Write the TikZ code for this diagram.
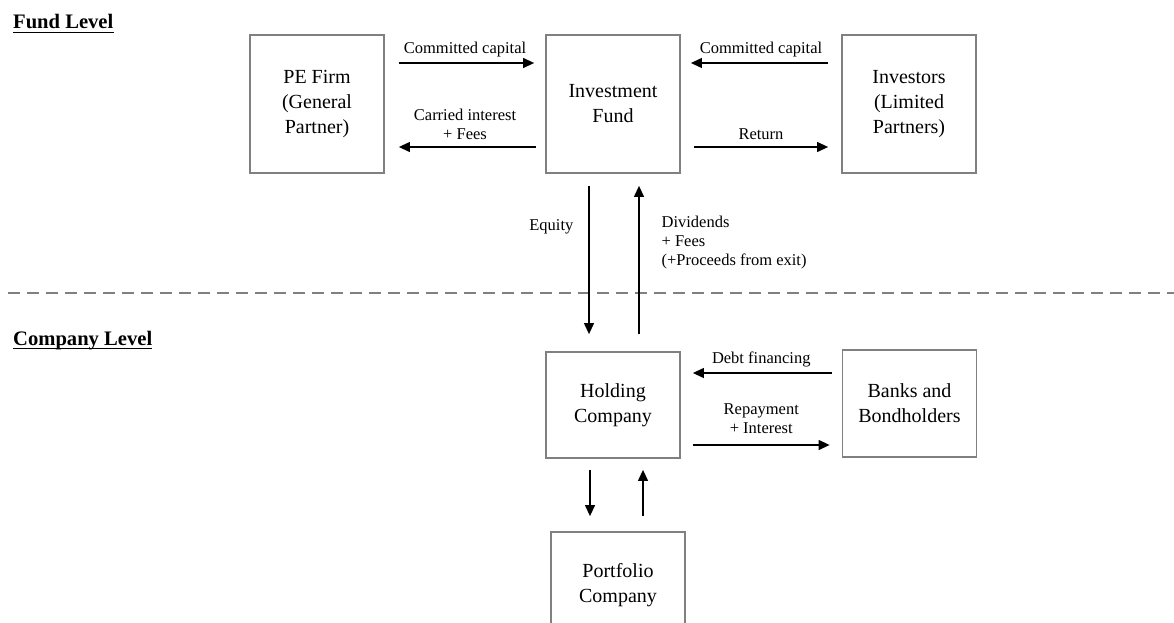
\documentclass[tikz,border=0pt]{standalone}
\usepackage{fontspec}
\setmainfont{Liberation Serif}
\usetikzlibrary{arrows.meta}
\begin{document}
\begin{tikzpicture}[x=1pt,y=-1pt,
  box/.style={draw=black!50, line width=1.8pt, rectangle, minimum width=134pt, align=center, inner sep=0pt, font=\fontsize{20}{25}\selectfont},
  arr/.style={line width=1.2pt, -{Triangle[length=11pt,width=10pt]}},
  lab/.style={inner sep=0pt, font=\fontsize{16.5}{19}\selectfont, align=center},
  ttl/.style={inner sep=0pt, anchor=base west, font=\bfseries\fontsize{20.6}{24}\selectfont}]
\useasboundingbox (0,0) rectangle (1174,623);
\clip (0,0) rectangle (1174,623);
% titles
\node[ttl] (ft) at (13,29) {Fund Level};
\draw[line width=1.8pt] ([yshift=-3.5pt]ft.base west) -- ([yshift=-3.5pt]ft.base east);
\node[ttl] (ct) at (13,345) {Company Level};
\draw[line width=1.8pt] ([yshift=-3.5pt]ct.base west) -- ([yshift=-3.5pt]ct.base east);
% divider
\coordinate (dl) at (8,293);
\coordinate (dr) at (1174,293);
\draw[black!50, line width=2.5pt, dash pattern=on 12pt off 7pt] (dl) -- (dr);
% boxes
\node[box, minimum height=138pt] (pe) at (317,104) {PE Firm\\(General\\Partner)};
\node[box, minimum height=138pt] (fund) at (613,104) {Investment\\Fund};
\node[box, minimum height=138pt] (inv) at (909,104) {Investors\\(Limited\\Partners)};
\node[box, minimum height=106pt] (hold) at (613,405) {Holding\\Company};
\node[box, minimum height=107pt] (banks) at (909.5,403.5) {Banks and\\Bondholders};
\node[box, minimum height=106pt] (port) at (618,585) {Portfolio\\Company};
% helper coordinates
\coordinate (r1) at (0,63);
\coordinate (r2) at (0,147);
\coordinate (r3) at (0,373);
\coordinate (r4) at (0,445);
\coordinate (c1) at (589,0);
\coordinate (c2) at (639,0);
\coordinate (c3) at (590,0);
\coordinate (c4) at (643,0);
% fund level arrows
\draw[arr, shorten <=14pt, shorten >=11pt] (pe.east |- r1) -- (fund.west |- r1)
  node[lab, midway, above=5pt] {Committed capital};
\draw[arr, shorten <=13pt, shorten >=10pt] (inv.west |- r1) -- (fund.east |- r1)
  node[lab, midway, above=5pt] {Committed capital};
\draw[arr, shorten <=9pt, shorten >=14pt] (fund.west |- r2) -- (pe.east |- r2)
  node[lab, midway, above=7pt] {Carried interest\\+ Fees};
\draw[arr, shorten <=13pt, shorten >=13pt] (fund.east |- r2) -- (inv.west |- r2)
  node[lab, midway, above=7pt] {Return};
% vertical arrows between levels
\draw[arr, shorten <=12pt, shorten >=17pt] (fund.south -| c1) -- (hold.north -| c1)
  node[lab, pos=0.3, left=15pt] {Equity};
\draw[arr, shorten <=17pt, shorten >=12pt] (hold.north -| c2) -- (fund.south -| c2)
  node[lab, pos=0.61, right=22pt, align=left] {Dividends\\+ Fees\\(+Proceeds from exit)};
% company level arrows
\draw[arr, shorten <=10pt, shorten >=12pt] (banks.west |- r3) -- (hold.east |- r3)
  node[lab, midway, above=5pt] {Debt financing};
\draw[arr, shorten <=12pt, shorten >=12pt] (hold.east |- r4) -- (banks.west |- r4)
  node[lab, midway, above=11pt] {Repayment\\+ Interest};
\draw[arr, shorten <=11pt, shorten >=15pt] (hold.south -| c3) -- (port.north -| c3);
\draw[arr, shorten <=15pt, shorten >=11pt] (port.north -| c4) -- (hold.south -| c4);
\end{tikzpicture}
\end{document}
